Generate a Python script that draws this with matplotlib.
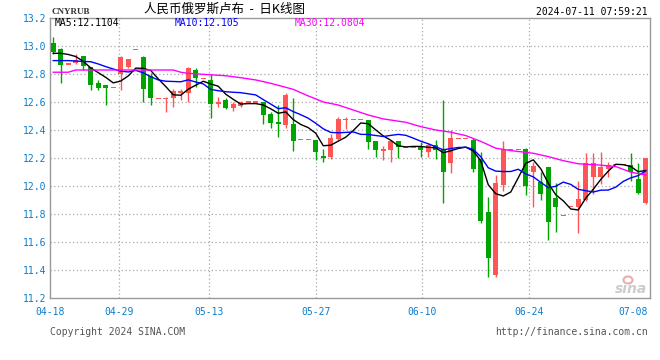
import numpy as np
import pandas as pd
import matplotlib
matplotlib.use("Agg")
import matplotlib.pyplot as plt
from matplotlib.patches import Ellipse

# daily candles, 04-18 .. 07-10
opens = [13.020, 12.977, 12.872, 12.877, 12.931, 12.853, 12.739, 12.722, 12.703, 12.801,
         12.853, 12.977, 12.920, 12.785, 12.627, 12.627, 12.627, 12.663, 12.667, 12.829,
         12.770, 12.758, 12.584, 12.615, 12.558, 12.570, 12.601, 12.601, 12.599, 12.515,
         12.460, 12.437, 12.444, 12.335, 12.335, 12.330, 12.210, 12.211, 12.339, 12.474,
         12.477, 12.477, 12.472, 12.323, 12.254, 12.259, 12.323, 12.278, 12.278, 12.278,
         12.246, 12.294, 12.263, 12.168, 12.342, 12.342, 12.330, 12.192, 11.818, 11.367,
         12.007, 12.263, 12.263, 12.266, 12.104, 12.032, 12.139, 11.914, 11.788, 11.857,
         11.850, 11.900, 12.068, 12.066, 12.123, 12.154, 12.154, 12.154, 12.049, 11.883]
highs = [13.067, 12.984, 12.872, 12.943, 12.931, 12.853, 12.758, 12.722, 12.703, 12.929,
         12.910, 12.977, 12.931, 12.806, 12.627, 12.634, 12.691, 12.691, 12.853, 12.840,
         12.770, 12.800, 12.639, 12.627, 12.603, 12.610, 12.601, 12.601, 12.603, 12.532,
         12.577, 12.667, 12.627, 12.335, 12.335, 12.330, 12.266, 12.370, 12.496, 12.496,
         12.477, 12.477, 12.472, 12.323, 12.287, 12.323, 12.323, 12.278, 12.278, 12.318,
         12.306, 12.330, 12.615, 12.401, 12.342, 12.342, 12.346, 12.242, 11.925, 12.080,
         12.325, 12.263, 12.263, 12.275, 12.175, 12.104, 12.139, 12.025, 11.788, 11.857,
         12.037, 12.237, 12.237, 12.246, 12.175, 12.154, 12.154, 12.237, 12.164, 12.199]
lows = [12.943, 12.734, 12.872, 12.872, 12.829, 12.686, 12.686, 12.579, 12.703, 12.686,
        12.841, 12.977, 12.600, 12.579, 12.627, 12.527, 12.567, 12.615, 12.603, 12.710,
        12.770, 12.489, 12.567, 12.551, 12.539, 12.563, 12.601, 12.601, 12.442, 12.413,
        12.353, 12.413, 12.253, 12.335, 12.335, 12.187, 12.171, 12.196, 12.330, 12.406,
        12.477, 12.477, 12.263, 12.211, 12.187, 12.175, 12.204, 12.278, 12.278, 12.211,
        12.211, 12.192, 11.878, 12.097, 12.342, 12.342, 12.100, 11.740, 11.355, 11.351,
        11.966, 12.263, 12.263, 11.938, 11.854, 11.902, 11.617, 11.674, 11.788, 11.857,
        11.669, 11.893, 11.945, 12.014, 12.064, 12.154, 12.154, 12.040, 11.945, 11.873]
closes = [12.960, 12.865, 12.872, 12.900, 12.858, 12.722, 12.699, 12.703, 12.703, 12.924,
          12.905, 12.977, 12.694, 12.627, 12.627, 12.630, 12.681, 12.681, 12.841, 12.770,
          12.770, 12.584, 12.601, 12.556, 12.587, 12.601, 12.601, 12.601, 12.508, 12.449,
          12.442, 12.651, 12.325, 12.335, 12.335, 12.242, 12.206, 12.344, 12.480, 12.477,
          12.477, 12.477, 12.318, 12.259, 12.263, 12.323, 12.278, 12.278, 12.278, 12.259,
          12.294, 12.259, 12.104, 12.346, 12.342, 12.342, 12.123, 11.754, 11.490, 12.021,
          12.263, 12.263, 12.263, 12.004, 12.147, 11.945, 11.747, 11.850, 11.788, 11.857,
          11.909, 12.168, 12.168, 12.137, 12.154, 12.154, 12.154, 12.104, 11.950, 12.199]

# moving average values before the window fills
ma5_head = [12.948, 12.948, 12.940, 12.925]
ma10_head = [12.896, 12.896, 12.896, 12.893, 12.890, 12.888, 12.872, 12.853, 12.836]
ma30_idx = [0, 2, 3, 16, 17, 18, 23, 25, 27, 29, 32, 34, 36, 38, 42, 44, 47, 49,
            51, 53, 55, 57, 59, 61, 64, 66, 68, 70, 73, 75, 77, 79]
ma30_val = [12.813, 12.813, 12.829, 12.829, 12.813, 12.805, 12.788, 12.774, 12.758,
            12.734, 12.691, 12.644, 12.601, 12.579, 12.508, 12.480, 12.456, 12.425,
            12.401, 12.385, 12.361, 12.320, 12.271, 12.254, 12.235, 12.211, 12.182,
            12.160, 12.150, 12.140, 12.100, 12.080]

yticks = [11.2, 11.4, 11.6, 11.8, 12.0, 12.2, 12.4, 12.6, 12.8, 13.0, 13.2]
date_labels = ["04-18", "04-29", "05-13", "05-27", "06-10", "06-24", "07-08"]
date_pos = [-0.45, 8.75, 20.8, 35.0, 49.2, 63.4, 77.3]
ma_texts = ["MA5:12.1104", "MA10:12.105", "MA30:12.0804"]

RED = "#ff5555"
GREEN = "#00a400"
BLUE_TXT = "#0a7dcc"
GRID = "#a8a8a8"

plt.rcParams["font.family"] = "DejaVu Sans Mono"

W, H = 660, 360
fx = lambda px: px / W
fy = lambda py: 1 - py / H

fig = plt.figure(figsize=(6.6, 3.6), dpi=100)
ax = fig.add_axes([fx(49.5), fy(298.3), 600 / W, 280.3 / H])

o = np.array(opens)
h = np.array(highs)
l = np.array(lows)
c = np.array(closes)
x = np.arange(len(c))
col = np.where(c >= o, RED, GREEN)

# grid
for v in yticks[1:-1]:
    ax.axhline(v, color=GRID, lw=0.9, ls=(0, (1, 2)), zorder=1)
for p in date_pos[1:-1]:
    ax.axvline(p, color=GRID, lw=0.9, ls=(0, (1, 2)), zorder=1)

# candles
ax.vlines(x, l, h, colors=col, lw=1, zorder=2)
body = np.maximum(np.abs(c - o), 0.008)
bottom = np.minimum(o, c) - (body - np.abs(c - o)) / 2
ax.bar(x, body, bottom=bottom, width=0.72, color=col, lw=0, zorder=3)

# moving averages
s = pd.Series(closes)
ma5 = s.rolling(5).mean().to_numpy()
ma5[:len(ma5_head)] = ma5_head
ma10 = s.rolling(10).mean().to_numpy()
ma10[:len(ma10_head)] = ma10_head
ax.plot(x, ma5, color="black", lw=1, zorder=4)
ax.plot(x, ma10, color="#0000ff", lw=1, zorder=4)
ax.plot(ma30_idx, ma30_val, color="#ff00ff", lw=1, zorder=4)

ax.set_xlim(-0.5, 79.5)
ax.set_ylim(11.2, 13.2)
ax.set_yticks(yticks, labels=[f"{v:.1f}" for v in yticks])
ax.set_xticks(date_pos, labels=date_labels)
ax.tick_params(length=0, labelsize=7, labelcolor=BLUE_TXT)
ax.tick_params(axis="y", pad=2.5)
ax.tick_params(axis="x", pad=6)
for sp in ax.spines.values():
    sp.set_color("#999999")
    sp.set_linewidth(1)

# header / footer texts
fig.text(fx(55), fy(23.5), ma_texts[0], color="black", size=7, va="center")
fig.text(fx(175), fy(23.5), ma_texts[1], color="#0000ff", size=7, va="center")
fig.text(fx(295), fy(23.5), ma_texts[2], color="#ff00ff", size=7, va="center")
fig.text(fx(52), fy(12), "CNYRUB", family="Liberation Serif", weight="bold",
         size=6.5, color="#333333", va="center")
fig.text(fx(225), fy(9.5), "人民币俄罗斯卢布  -  日K线图",
         family=["Noto Sans CJK SC", "DejaVu Sans"], size=9, ha="center", va="center")
fig.text(fx(648), fy(12), "2024-07-11 07:59:21", size=7, ha="right", va="center")
fig.text(fx(49.5), fy(332), "Copyright 2024 SINA.COM", size=7, color="#555555", va="center")
fig.text(fx(648), fy(332), "http://finance.sina.com.cn", size=7, color="#555555",
         ha="right", va="center")

# sina watermark
fig.text(fx(647), fy(289), "sina", family="DejaVu Sans", style="italic", weight="bold",
         size=10, color="#cccccc", ha="right", va="center", zorder=5)
fig.add_artist(Ellipse((fx(628), fy(280)), 9 / W, 7 / H, facecolor="none",
                       edgecolor="#f0a8a8", lw=1.5, zorder=5))

fig.savefig("out.png", dpi=100)
